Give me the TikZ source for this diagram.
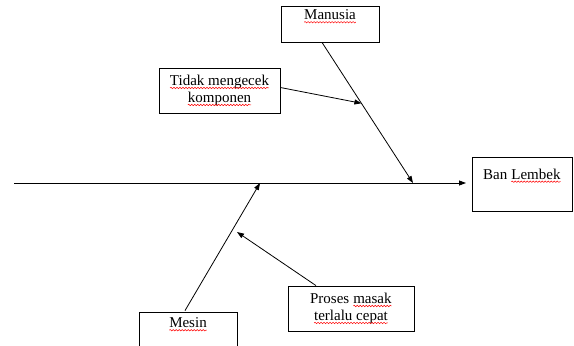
\documentclass[tikz,border=0pt]{standalone}
\usepackage{fontspec}
\setmainfont{Liberation Serif}
\usetikzlibrary{arrows.meta,calc,decorations.pathmorphing}
\newcommand\rw[1]{\tikz[baseline=(w.base)]{\node[inner sep=0pt,outer sep=0pt,draw=none,fill=none,minimum width=0pt,minimum height=0pt,anchor=base](w) at (0,0){#1};\draw[red,line width=0.5pt,decorate,decoration={snake,amplitude=0.7pt,segment length=3pt}] ([yshift=-2.5pt]w.base west) -- ([yshift=-2.5pt]w.base east);}}
\begin{document}
\begin{tikzpicture}[x=1pt,y=-1pt,
  box/.style={draw=black,line width=0.8pt,rectangle,inner sep=2pt,align=center,font=\fontsize{15}{17}\selectfont},
  lbl/.style={anchor=north,inner sep=3pt,font=\fontsize{15}{17}\selectfont},
  arr/.style={line width=0.8pt,-{Triangle[length=7pt,width=5pt]}}]
\clip (0,0) rectangle (574,346);
% boxes
\node[box,minimum width=98pt,minimum height=36pt,label={[lbl,yshift=-1pt]north:\rw{Manusia}}] (man) at (330,24) {};
\node[box,minimum width=121pt,minimum height=45pt] (tid) at (219.5,90.5) {\rw{Tidak mengecek}\\ \rw{komponen}};
\node[box,minimum width=100pt,minimum height=54pt,label={[lbl,yshift=-9pt]north:Ban \rw{Lembek}}] (ban) at (522,184) {};
\node[box,minimum width=98pt,minimum height=42pt,label={[lbl,yshift=-3pt]north:\rw{Mesin}}] (mes) at (188,333) {};
\node[box,minimum width=126pt,minimum height=45pt] (pro) at (351,308.5) {Proses \rw{masak}\\ \rw{terlalu cepat}};
% spine
\coordinate (tail) at (14,183);
\coordinate (head) at (466,183);
\draw[arr] (tail) -- (head);
% Manusia bone
\coordinate (mtop) at ($(man.south)+(-8,0)$);
\coordinate (mend) at (413,183);
\draw[arr] (mtop) -- (mend);
\coordinate (tmid) at ($(mtop)!0.433!(mend)$);
\draw[arr] ($(tid.east)+(0,-3)$) -- (tmid);
% Mesin bone
\coordinate (metop) at ($(mes.north)+(-3,-1)$);
\coordinate (meend) at (260,183);
\draw[arr] (metop) -- (meend);
\coordinate (pmid) at (237,232);
\draw[arr] ($(pro.north)+(-35,0)$) -- (pmid);
\end{tikzpicture}
\end{document}
